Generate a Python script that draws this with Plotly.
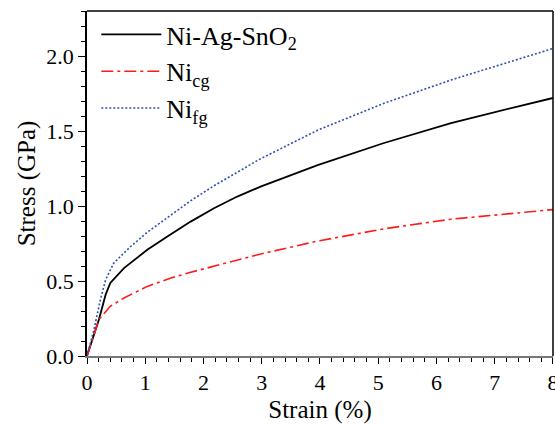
import plotly.graph_objects as go

strain_black = [0.0, 0.205, 0.32, 0.40, 0.635, 1.035, 1.38, 1.78, 2.18, 2.58, 2.98, 3.96, 5.10, 6.25, 7.39, 8.0]
stress_black = [0.0, 0.243, 0.409, 0.487, 0.586, 0.708, 0.797, 0.896, 0.985, 1.063, 1.129, 1.273, 1.420, 1.553, 1.663, 1.72]

strain_red = [0.0, 0.205, 0.40, 0.635, 1.035, 1.44, 1.78, 2.18, 2.58, 2.98, 3.96, 5.10, 6.25, 7.39, 8.0]
stress_red = [0.0, 0.243, 0.331, 0.387, 0.464, 0.52, 0.558, 0.598, 0.64, 0.68, 0.766, 0.848, 0.912, 0.952, 0.976]

strain_blue = [0.0, 0.12, 0.23, 0.32, 0.46, 0.75, 1.035, 1.44, 1.78, 2.18, 2.58, 2.98, 3.96, 5.10, 6.25, 7.39, 8.0]
stress_blue = [0.0, 0.176, 0.376, 0.509, 0.62, 0.73, 0.825, 0.94, 1.035, 1.135, 1.225, 1.315, 1.505, 1.685, 1.840, 1.975, 2.05]

x_ticks = [0, 1, 2, 3, 4, 5, 6, 7, 8]
x_tick_labels = ["0", "1", "2", "3", "4", "5", "6", "7", "8"]

names = ["Ni-Ag-SnO<sub>2</sub>", "Ni<sub>cg</sub>", "Ni<sub>fg</sub>"]

FAM = "Liberation Serif, Times New Roman, serif"

fig = go.Figure()
fig.add_trace(go.Scatter(x=strain_black, y=stress_black, mode="lines", name=names[0],
                         line=dict(color="black", width=1.8)))
fig.add_trace(go.Scatter(x=strain_red, y=stress_red, mode="lines", name=names[1],
                         line=dict(color="#FF1A1A", width=1.6, dash="12px,4px,3px,4px")))
fig.add_trace(go.Scatter(x=strain_blue, y=stress_blue, mode="lines", name=names[2],
                         line=dict(color="#2E50B0", width=1.6, dash="2px,2px")))

fig.update_layout(
    width=555, height=426,
    margin=dict(l=87, r=2, t=11, b=70),
    paper_bgcolor="white", plot_bgcolor="white",
    font=dict(family=FAM, size=22, color="black"),
    showlegend=True,
    legend=dict(x=0.02, y=1.0, xanchor="left", yanchor="top",
                font=dict(family=FAM, size=26, color="black"),
                bgcolor="rgba(0,0,0,0)", tracegroupgap=8, itemwidth=60),
    xaxis=dict(range=[0, 8.001], tickmode="array", tickvals=x_ticks, ticktext=x_tick_labels,
               ticklabeloverflow="allow", automargin=False,
               ticks="outside", ticklen=6, tickwidth=1.2, tickcolor="black",
               minor=dict(tickmode="linear", tick0=0, dtick=0.2, ticks="outside", ticklen=4, tickwidth=1, tickcolor="black"),
               showline=True, linecolor="#777777", linewidth=1.5, mirror=False,
               showgrid=False, zeroline=False,
               title=dict(text="Strain (%)", font=dict(family=FAM, size=25), standoff=6),
               tickfont=dict(family=FAM, size=22)),
    yaxis=dict(range=[0, 2.3], tickmode="linear", tick0=0, dtick=0.5, tickformat=".1f",
               automargin=False,
               ticks="outside", ticklen=7, tickwidth=1.2, tickcolor="black",
               minor=dict(tickmode="linear", tick0=0, dtick=0.1, ticks="outside", ticklen=4, tickwidth=1, tickcolor="black"),
               showline=True, linecolor="black", linewidth=1.5, mirror=False,
               showgrid=False, zeroline=False,
               title=dict(text="Stress (GPa)", font=dict(family=FAM, size=25), standoff=4),
               tickfont=dict(family=FAM, size=22)),
    shapes=[
        dict(type="line", xref="paper", yref="paper", x0=0, x1=1, y0=1, y1=1,
             line=dict(color="black", width=1.5)),
        dict(type="line", xref="paper", yref="paper", x0=1, x1=1, y0=0, y1=1,
             line=dict(color="black", width=1.5)),
    ],
)

fig.write_html("out.html")
